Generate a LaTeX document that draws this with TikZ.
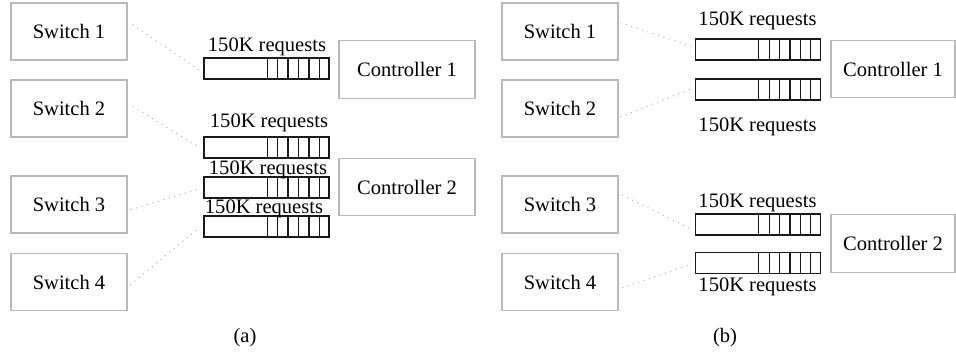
\documentclass[tikz,border=0pt]{standalone}
\usepackage{fontspec}
\setmainfont{Liberation Serif}

\begin{document}
\begin{tikzpicture}[x=0.75pt,y=0.75pt,yscale=-1,xscale=1,
  font=\fontsize{15.4}{18}\selectfont,
  swbox/.style={draw=gray!55,line width=0.8pt,minimum width=87pt,minimum height=42.75pt,inner sep=0pt},
  ctlbox/.style={draw=gray!55,line width=0.8pt,minimum height=43pt,inner sep=0pt},
  queue/.style={draw=black!90,line width=1pt,minimum width=93.75pt,minimum height=15.75pt,inner sep=0pt},
  qline/.style={draw=black!90,line width=1pt},
  link/.style={draw=gray!60,line width=0.75pt,dash pattern=on 0.75pt off 3.5pt},
  qlabel/.style={anchor=base,inner sep=0pt}]
\path (0,0) rectangle (956,356); %set diagram size

%Shape: Switches (a)
	\node [swbox] (sa1) at (69,31.5) {Switch 1};
	\node [swbox] (sa2) at (69,108.5) {Switch 2};
	\node [swbox] (sa3) at (69,204.5) {Switch 3};
	\node [swbox] (sa4) at (69,282) {Switch 4};
%Shape: Queues (a)
	\node [queue] (qa1) at (266.5,68.5) {};
	\node [queue] (qa2) at (266.5,147.5) {};
	\node [queue] (qa3) at (266.5,187.5) {};
	\node [queue] (qa4) at (266.5,226.5) {};
%Shape: Controllers (a)
	\node [ctlbox,minimum width=102pt] (ca1) at (407,69.5) {Controller 1};
	\node [ctlbox,minimum width=102pt] (ca2) at (407,187) {Controller 2};

%Shape: Switches (b)
	\node [swbox] (sb1) at (560,31.5) {Switch 1};
	\node [swbox] (sb2) at (560,108.5) {Switch 2};
	\node [swbox] (sb3) at (560,204.5) {Switch 3};
	\node [swbox] (sb4) at (560,282) {Switch 4};
%Shape: Queues (b)
	\node [queue] (qb1) at (758,49.5) {};
	\node [queue] (qb2) at (758,89.5) {};
	\node [queue] (qb3) at (758,224.5) {};
	\node [queue] (qb4) at (758,263) {};
%Shape: Controllers (b)
	\node [ctlbox,minimum width=93pt] (cb1) at (893,69) {Controller 1};
	\node [ctlbox,minimum width=93pt] (cb2) at (893,243.5) {Controller 2};

%Queue slots
	\foreach \q in {qa1,qa2,qa3,qa4,qb1,qb2,qb3,qb4}
	  \foreach \k in {1,...,6}
	    \draw [qline] ([xshift=-\k*7.8pt]\q.north east) -- ([xshift=-\k*7.8pt]\q.south east);

%Dotted Lines
	\draw [link,shorten <=4.5pt,shorten >=3pt] (sa1.10) -- (qa1.184);
	\draw [link,shorten <=4.5pt,shorten >=3pt] (sa2.5) -- (qa2.182);
	\draw [link,shorten <=2.5pt,shorten >=3pt] (sa3.-6) -- (qa3.west);
	\draw [link,shorten <=2.5pt,shorten >=3pt] (sa4.-5) -- (qa4.178);
	\draw [link,shorten <=1.5pt,shorten >=1.5pt] (sb1.9) -- (qb1.178);
	\draw [link,shorten <=1.5pt,shorten >=1.5pt] (sb2.-9) -- (qb2.178);
	\draw [link,shorten <=3pt,shorten >=2pt] (sb3.11) -- (qb3.186);
	\draw [link,shorten <=3pt,shorten >=2pt] (sb4.-7) -- (qb4.west);

% Text Node
	\node [qlabel] (la1) at (267,52) {150K requests};
	\node [qlabel] (la2) at (269,128) {150K requests};
	\node [qlabel] (la3) at (268,175) {150K requests};
	\node [qlabel] (la4) at (264,214) {150K requests};
	\node [qlabel] (lb1) at (757.5,26) {150K requests};
	\node [qlabel] (lb2) at (757.5,132) {150K requests};
	\node [qlabel] (lb3) at (757.5,207) {150K requests};
	\node [qlabel] (lb4) at (757.5,291) {150K requests};
% Text Node
	\node (capa) at (245,338) {(a)};
	\node (capb) at (725,338) {(b)};

\end{tikzpicture}
\end{document}
